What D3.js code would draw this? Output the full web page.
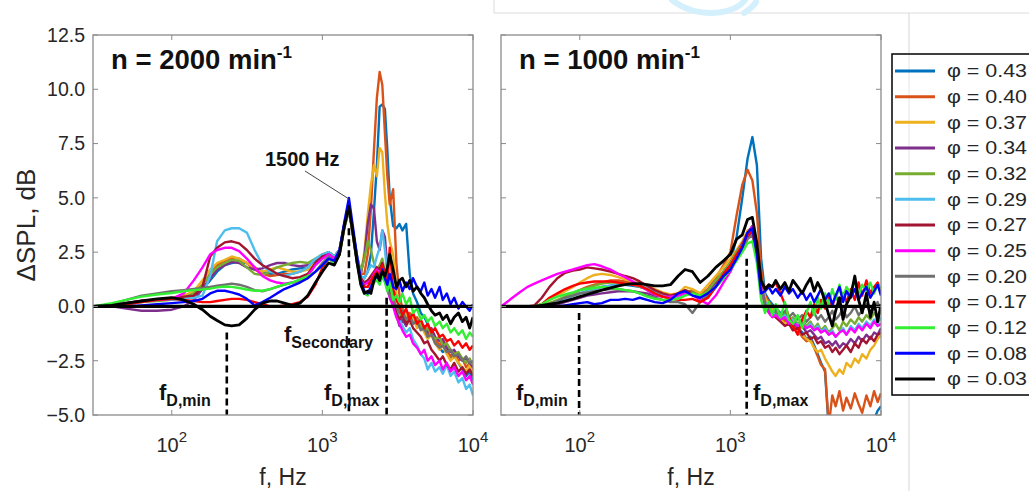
<!DOCTYPE html>
<html>
<head>
<meta charset="utf-8">
<script src="https://cdn.jsdelivr.net/npm/d3@7"></script>
<style>
  html, body { margin: 0; padding: 0; background: #fff; }
  svg { display: block; font-family: "Liberation Sans", Arial, sans-serif; }
</style>
</head>
<body>
<svg id="chart" width="1029" height="491"></svg>
<script>
// ---- data -------------------------------------------------------------
// Flow coefficients shown in the legend
const phiValues = ["0.43", "0.40", "0.37", "0.34", "0.32", "0.29", "0.27", "0.25", "0.20", "0.17", "0.12", "0.08", "0.03"];

// Frequency grid, Hz (n = 2000 min^-1)
const freq2000 = [30, 40, 50, 63, 80, 100, 120, 140, 160, 180, 200, 225, 250, 280, 315, 355, 400, 450, 500, 560, 630, 710, 800, 900,
  1000, 1100, 1200, 1300, 1400, 1500, 1600, 1700, 1800, 1900, 2000, 2100, 2200, 2300, 2400, 2500, 2600, 2700, 2800, 2950,
  3100, 3250, 3400, 3600, 3800, 4000, 4250, 4500, 4750, 5000, 5300, 5600, 6000, 6300, 6700, 7100, 7500, 8000, 8500, 9000, 9500, 10000];

// Delta SPL, dB at n = 2000 min^-1, one array per phi
const s2000_043 = [0, 0.05, 0.15, 0.25, 0.3, 0.35, 0.4, 0.5, 0.8, 1.2, 1.6, 1.9, 2.0, 2.05, 2.0, 1.8, 1.6, 1.5, 1.5, 1.6, 1.7, 1.75, 1.8, 2.0,
  2.3, 2.5, 2.3, 2.6, 3.8, 4.6, 3.4, 2.2, 1.4, 1.3, 1.6, 2.4, 4.4, 6.5, 9.2, 9.3, 9.1, 7.2, 5.0, 3.7,
  3.6, 3.8, 3.5, 3.8, 1.5, 0.6, 0.2, -0.3, -0.5, -0.8, -1.2, -1.6, -1.9, -2.1, -2.0, -2.4, -2.2, -2.6, -2.9, -3.2, -3.0, -3.4];
const s2000_040 = [0, 0.05, 0.15, 0.25, 0.3, 0.35, 0.4, 0.6, 1.0, 1.5, 1.9, 2.1, 2.25, 2.2, 2.0, 1.7, 1.5, 1.4, 1.45, 1.5, 1.5, 1.6, 1.8, 2.1,
  2.3, 2.5, 2.3, 2.6, 3.8, 4.6, 3.3, 2.2, 1.5, 1.5, 2.4, 4.5, 7.2, 9.6, 10.8, 10.2, 8.0, 6.0, 4.7, 5.4,
  2.0, 0.5, -0.1, -0.4, -0.3, -0.6, -0.5, -0.9, -1.0, -1.3, -1.1, -1.5, -1.8, -1.6, -2.0, -2.3, -2.1, -2.5, -2.4, -2.8, -2.6, -2.9];
const s2000_037 = [0, 0.05, 0.15, 0.25, 0.3, 0.4, 0.5, 0.7, 1.2, 1.7, 2.0, 2.15, 2.3, 2.2, 2.0, 1.8, 1.6, 1.7, 1.8, 1.7, 1.6, 1.6, 1.7, 2.0,
  2.3, 2.5, 2.3, 2.6, 3.8, 4.6, 3.4, 2.2, 1.5, 2.5, 4.2, 5.6, 6.5, 6.0, 7.3, 7.1, 5.2, 3.8, 3.0, 2.4,
  0.6, -0.2, -0.6, -0.3, -0.8, -0.5, -1.0, -0.8, -1.2, -1.5, -1.3, -1.7, -2.0, -1.8, -2.2, -2.5, -2.3, -2.6, -2.8, -3.0, -2.7, -3.1];
const s2000_034 = [0, 0.0, -0.1, -0.2, -0.2, -0.15, 0.0, 0.3, 0.8, 1.3, 1.7, 1.9, 2.05, 2.0, 1.8, 1.7, 1.75, 1.9, 2.0, 2.0, 1.9, 1.85, 1.9, 2.1,
  2.3, 2.5, 2.3, 2.6, 3.8, 4.6, 3.4, 2.3, 1.5, 2.3, 3.8, 4.7, 4.5, 3.0, 2.6, 3.5, 3.2, 1.8, 1.0, 0.5,
  -0.4, -0.9, -0.6, -0.9, -0.5, -0.8, -0.6, -1.0, -0.9, -1.2, -1.0, -1.4, -1.6, -1.5, -1.9, -2.1, -2.0, -2.3, -2.5, -2.4, -2.6, -2.8];
const s2000_032 = [0, 0.05, 0.15, 0.2, 0.25, 0.3, 0.4, 0.6, 1.0, 1.5, 1.8, 2.0, 2.15, 2.1, 1.8, 1.5, 1.45, 1.6, 1.8, 1.9, 2.0, 2.05, 2.0, 2.2,
  2.4, 2.5, 2.3, 2.6, 3.8, 4.6, 3.4, 2.3, 1.6, 2.2, 3.0, 2.6, 2.0, 1.7, 1.9, 2.2, 1.6, 1.2, 0.8, 0.4,
  -0.2, -0.5, -0.3, -0.7, -0.4, -0.8, -0.6, -0.9, -1.1, -1.0, -1.3, -1.5, -1.4, -1.8, -1.7, -2.0, -2.2, -2.1, -2.4, -2.6, -2.4, -2.7];
const s2000_029 = [0, 0.05, 0.1, 0.2, 0.3, 0.3, 0.35, 0.4, 0.5, 1.4, 3.0, 3.5, 3.6, 3.6, 3.4, 2.6, 1.9, 1.6, 1.5, 1.4, 1.5, 1.6, 1.8, 2.2,
  2.4, 2.5, 2.3, 2.6, 3.8, 4.6, 3.4, 2.3, 1.4, 1.3, 1.6, 1.9, 1.8, 2.3, 2.7, 3.5, 2.6, 1.5, 0.9, 0.4,
  -0.1, -0.6, -0.9, -1.2, -1.0, -1.5, -1.8, -2.2, -2.4, -2.9, -2.6, -3.0, -2.8, -3.1, -2.7, -3.2, -3.0, -3.5, -3.3, -3.8, -3.6, -4.1];
const s2000_027 = [0, 0.05, 0.15, 0.25, 0.3, 0.35, 0.45, 0.5, 0.9, 2.3, 2.7, 2.95, 3.0, 2.9, 2.6, 2.2, 1.9, 1.7, 1.5, 1.4, 1.3, 1.35, 1.5, 2.0,
  2.3, 2.4, 2.2, 2.5, 3.7, 4.5, 3.3, 2.1, 1.3, 1.1, 1.2, 1.4, 1.6, 1.8, 1.7, 2.0, 1.5, 1.0, 0.6, 0.2,
  -0.3, -0.6, -0.4, -0.8, -0.6, -1.0, -1.2, -1.4, -1.7, -1.6, -2.0, -2.2, -2.5, -2.3, -2.7, -2.9, -2.6, -3.0, -2.8, -3.1, -2.9, -3.2];
const s2000_025 = [0, 0.05, 0.15, 0.25, 0.3, 0.35, 0.6, 1.2, 1.8, 2.4, 2.6, 2.7, 2.7, 2.55, 2.2, 1.8, 1.4, 1.2, 1.1, 1.05, 1.1, 1.2, 1.4, 1.9,
  2.2, 2.4, 2.2, 2.5, 3.7, 4.5, 3.3, 2.0, 1.2, 1.0, 1.1, 1.2, 1.5, 1.7, 1.5, 1.8, 1.3, 0.8, 0.4, 0.0,
  -0.5, -0.8, -1.1, -1.4, -1.3, -1.7, -1.9, -2.2, -2.0, -2.5, -2.3, -2.7, -2.5, -2.9, -2.6, -3.0, -2.8, -3.2, -3.0, -3.4, -3.2, -3.6];
const s2000_020 = [0, 0.1, 0.3, 0.5, 0.6, 0.7, 0.75, 0.8, 0.85, 0.9, 0.95, 1.0, 1.05, 1.0, 0.9, 0.75, 0.7, 0.8, 0.9, 1.0, 1.1, 1.2, 1.3, 1.6,
  2.0, 2.3, 2.0, 2.4, 3.6, 4.4, 3.2, 2.0, 1.2, 0.9, 0.9, 1.1, 1.3, 1.5, 1.3, 1.6, 1.2, 0.8, 0.5, 0.3,
  0.0, -0.3, -0.2, -0.6, -0.4, -0.8, -0.7, -1.1, -1.0, -1.4, -1.3, -1.7, -1.9, -1.8, -2.1, -2.0, -2.3, -2.2, -2.5, -2.3, -2.6, -2.5];
const s2000_017 = [0, 0.05, 0.1, 0.2, 0.3, 0.35, 0.3, 0.25, 0.2, 0.2, 0.25, 0.3, 0.35, 0.35, 0.3, 0.2, 0.1, 0.0, 0.0, 0.05, 0.1, 0.2, 0.45, 1.0,
  1.8, 2.2, 2.0, 2.4, 3.7, 4.5, 3.3, 2.1, 1.2, 0.9, 0.9, 1.2, 1.4, 1.6, 1.4, 1.9, 1.4, 1.0, 2.7, 0.8,
  0.3, 0.0, -0.4, -0.1, -0.6, -0.3, -0.8, -0.6, -1.0, -0.8, -1.2, -1.0, -1.4, -1.3, -1.6, -1.5, -1.8, -1.6, -1.9, -1.7, -2.0, -1.8];
const s2000_012 = [0, 0.15, 0.3, 0.45, 0.55, 0.62, 0.7, 0.75, 0.78, 0.82, 0.88, 0.92, 0.9, 0.85, 0.78, 0.72, 0.72, 0.8, 0.9, 1.0, 1.1, 1.25, 1.4, 1.6,
  1.9, 2.2, 2.0, 2.4, 3.7, 4.5, 3.3, 2.0, 1.0, 0.6, 0.5, 0.8, 1.1, 1.2, 1.0, 1.4, 1.1, 0.7, 1.1, 0.3,
  0.5, 0.2, 0.6, 0.1, 0.4, -0.3, -0.1, -0.6, -0.4, -0.7, -0.5, -0.9, -0.7, -1.0, -0.8, -1.2, -1.0, -1.3, -1.1, -1.5, -1.2, -1.4];
const s2000_008 = [0, 0.0, 0.0, 0.05, 0.1, 0.15, 0.2, 0.25, 0.35, 0.6, 0.72, 0.72, 0.65, 0.55, 0.35, 0.05, 0.2, 0.4, 0.6, 0.8, 0.95, 1.1, 1.3, 1.6,
  1.9, 2.2, 2.1, 2.6, 3.9, 5.0, 3.6, 2.3, 1.2, 0.7, 0.6, 0.9, 1.2, 1.4, 1.2, 1.7, 1.3, 1.0, 1.5, 0.9,
  0.8, 1.2, 0.7, 1.1, 0.8, 1.3, 0.9, 0.7, 1.1, 0.5, 0.8, 0.4, 0.9, 0.3, 0.6, 0.1, 0.4, -0.1, 0.2, 0.0, -0.2, 0.1];
const s2000_003 = [0, 0.05, 0.15, 0.25, 0.35, 0.4, 0.3, 0.1, -0.15, -0.45, -0.65, -0.85, -0.9, -0.85, -0.55, -0.15, 0.15, 0.25, 0.25, 0.15, 0.05, 0.15, 0.5, 1.1,
  1.6, 2.0, 1.9, 2.4, 3.7, 4.6, 3.3, 2.0, 1.0, 0.6, 0.7, 0.6, 1.2, 1.5, 1.2, 1.6, 1.4, 1.8, 2.4, 1.7,
  0.9, 1.2, 1.3, 0.9, 1.2, 0.7, 0.9, 0.6, 0.4, 0.1, -0.2, -0.4, -0.3, -0.6, -0.4, -0.8, -0.5, -0.3, -0.7, -0.5, -1.0, -0.5];

// Frequency grid, Hz (n = 1000 min^-1)
const freq1000 = [30, 35, 40, 45, 50, 56, 63, 71, 80, 90, 100, 112, 125, 140, 160, 180, 200, 225, 250, 280, 315, 355, 400, 450, 500, 560, 630, 710, 800, 900,
  1000, 1100, 1200, 1300, 1400, 1500, 1600, 1700, 1800, 1900, 2000,
  2150, 2300, 2450, 2600, 2800, 3000, 3200, 3400, 3600, 3800, 4000, 4250, 4500, 4750, 5000, 5300, 5600, 5900, 6300, 6700, 7100, 7500, 8000, 8500, 9000, 9500, 10000];

// Delta SPL, dB at n = 1000 min^-1, one array per phi
const s1000_043 = [0, 0, 0, 0, 0, 0.05, 0.1, 0.2, 0.35, 0.5, 0.6, 0.7, 0.8, 0.9, 0.95, 1.0, 1.0, 0.95, 0.9, 0.8, 0.65, 0.5, 0.4, 0.4, 0.6, 0.7, 0.5, 0.7, 1.1, 1.6,
  2.0, 3.2, 5.0, 6.8, 7.8, 6.5, 2.2, 0.6, 0.3, 0.1, -0.1,
  -0.3, -0.6, -0.5, -0.8, -1.0, -1.2, -1.5, -1.4, -1.8, -2.2, -2.6, -3.0, -5.6, -5.8, -5.5, -5.9, -5.6, -5.8, -5.5, -5.7, -5.6, -5.4, -5.7, -5.5, -5.2, -4.8, -4.6];
const s1000_040 = [0, 0, 0, 0, 0, 0.05, 0.15, 0.25, 0.4, 0.6, 0.75, 0.9, 1.0, 1.1, 1.2, 1.2, 1.15, 1.1, 1.0, 0.85, 0.7, 0.55, 0.45, 0.45, 0.65, 0.75, 0.55, 0.8, 1.3, 1.9,
  2.5, 4.2, 5.6, 6.3, 5.8, 4.3, 1.7, 0.5, 0.2, 0.0, -0.2,
  -0.4, -0.7, -0.6, -0.9, -1.1, -1.4, -1.6, -1.5, -1.9, -2.3, -2.7, -2.9, -5.5, -4.1, -4.6, -3.9, -4.8, -4.2, -4.7, -4.0, -4.5, -4.9, -4.1, -4.6, -3.9, -4.4, -4.0];
const s1000_037 = [0, 0, 0, 0, 0, 0.1, 0.3, 0.5, 0.7, 0.9, 1.1, 1.3, 1.45, 1.5, 1.45, 1.35, 1.25, 1.15, 1.05, 0.95, 0.8, 0.65, 0.55, 0.6, 0.9, 0.8, 0.6, 1.0, 1.4, 1.8,
  2.2, 2.6, 3.0, 3.5, 3.6, 2.6, 1.2, 0.4, 0.1, -0.2, -0.4,
  -0.6, -0.8, -0.7, -1.0, -1.1, -1.3, -1.5, -1.6, -1.9, -2.1, -2.0, -2.4, -2.7, -3.0, -3.2, -2.9, -3.1, -2.6, -2.8, -2.4, -2.6, -2.2, -2.4, -2.0, -1.8, -1.5, -1.3];
const s1000_034 = [0, 0, 0, 0, 0, 0, 0.05, 0.1, 0.2, 0.3, 0.4, 0.5, 0.55, 0.6, 0.65, 0.7, 0.7, 0.7, 0.65, 0.6, 0.5, 0.45, 0.4, 0.45, 0.7, 0.6, 0.4, 0.7, 1.1, 1.6,
  2.0, 2.5, 2.9, 3.4, 3.7, 2.6, 1.0, 0.2, -0.2, -0.4, -0.3,
  -0.6, -0.5, -0.8, -0.7, -1.0, -0.9, -1.2, -1.1, -1.3, -1.5, -1.4, -1.7, -1.6, -1.8, -1.6, -1.9, -1.7, -1.8, -1.5, -1.7, -1.4, -1.6, -1.3, -1.5, -1.2, -1.3, -1.0];
const s1000_032 = [0, 0, 0, 0, 0, 0.05, 0.15, 0.3, 0.45, 0.6, 0.75, 0.85, 0.95, 1.05, 1.1, 1.1, 1.05, 1.0, 0.9, 0.8, 0.65, 0.5, 0.4, 0.45, 0.75, 0.65, 0.45, 0.75, 1.2, 1.6,
  2.0, 2.5, 2.8, 3.2, 3.3, 2.3, 0.9, 0.1, -0.1, -0.3, -0.2,
  -0.5, -0.3, -0.7, -0.5, -0.8, -0.6, -0.9, -0.7, -1.0, -0.8, -1.1, -0.9, -1.2, -1.0, -0.8, -1.1, -0.7, -0.9, -0.6, -0.8, -0.5, -0.7, -0.4, -0.6, -0.3, -0.5, -0.2];
const s1000_029 = [0, 0, 0, 0, 0, 0.05, 0.1, 0.2, 0.35, 0.5, 0.6, 0.7, 0.8, 0.9, 0.95, 1.0, 1.0, 1.0, 0.95, 0.85, 0.7, 0.55, 0.45, 0.45, 0.6, 0.55, 0.35, 0.55, 0.9, 1.3,
  1.8, 2.3, 2.7, 3.2, 3.4, 2.4, 0.9, 0.2, -0.1, -0.3, -0.4,
  -0.6, -0.4, -0.8, -0.6, -0.9, -0.7, -1.0, -0.8, -1.1, -0.9, -1.2, -1.0, -1.3, -1.1, -1.4, -1.2, -1.0, -1.3, -0.9, -1.1, -0.8, -1.0, -0.7, -0.9, -0.6, -0.8, -0.5];
const s1000_027 = [0, 0, 0, 0, 0.05, 0.4, 0.9, 1.3, 1.55, 1.65, 1.7, 1.8, 1.75, 1.7, 1.6, 1.5, 1.4, 1.3, 1.15, 0.95, 0.75, 0.6, 0.5, 0.6, 0.75, 0.6, 0.25, 0.45, 0.9, 1.4,
  1.8, 2.3, 2.7, 3.2, 3.5, 2.5, 0.9, 0.1, -0.2, -0.4, -0.5,
  -0.7, -0.9, -0.8, -1.1, -1.0, -1.3, -1.2, -1.5, -1.4, -1.7, -1.6, -1.9, -1.8, -2.1, -1.9, -2.2, -2.0, -1.8, -2.1, -1.7, -1.9, -1.5, -1.7, -1.4, -1.6, -1.3, -1.2];
const s1000_025 = [0, 0.35, 0.65, 0.9, 1.05, 1.2, 1.35, 1.5, 1.6, 1.7, 1.8, 1.9, 1.95, 1.85, 1.7, 1.5, 1.35, 1.15, 0.95, 0.75, 0.55, 0.45, 0.45, 0.5, 0.6, 0.55, 0.3, 0.1, 0.5, 1.1,
  1.6, 2.2, 2.7, 3.3, 3.7, 2.6, 0.9, 0.0, -0.3, -0.5, -0.4,
  -0.6, -0.5, -0.8, -0.7, -0.9, -0.8, -1.0, -0.9, -1.1, -1.0, -1.2, -1.1, -1.3, -1.2, -1.4, -1.2, -1.1, -1.3, -1.0, -1.2, -0.9, -1.1, -0.8, -1.0, -0.7, -0.9, -0.8];
const s1000_020 = [0, 0, 0, 0, 0, 0, 0.1, 0.25, 0.4, 0.5, 0.6, 0.65, 0.7, 0.75, 0.8, 0.8, 0.75, 0.7, 0.6, 0.5, 0.4, 0.3, 0.2, 0.2, 0.1, -0.3, 0.2, 0.5, 0.9, 1.3,
  1.7, 2.2, 2.6, 3.1, 3.3, 2.3, 0.8, 0.1, -0.1, -0.3, -0.2,
  -0.4, -0.2, -0.5, -0.3, -0.6, -0.4, -0.7, -0.5, -0.3, -0.6, -0.4, -0.7, -0.5, -0.2, -0.6, -0.4, -0.1, -0.5, -0.3, 0.0, -0.4, -0.2, 0.1, -0.3, -0.1, 0.2, -0.2];
const s1000_017 = [0, 0, 0, 0, 0, 0.1, 0.4, 0.6, 0.8, 0.95, 1.05, 1.1, 1.15, 1.15, 1.15, 1.1, 1.05, 1.0, 0.95, 0.8, 0.6, 0.45, 0.35, 0.3, 0.3, 0.35, 0.2, 0.4, 0.9, 1.5,
  1.9, 2.4, 2.8, 3.3, 3.5, 2.4, 1.1, 0.8, 1.0, 0.9, 1.1,
  0.6, 0.1, -0.5, -0.9, -1.3, -0.6, -0.2, -0.5, 0.1, -0.3, 0.3, -0.1, 0.4, 0.0, 0.5, 0.1, 0.6, 0.2, 0.8, 0.3, 1.1, 0.5, 1.2, 0.6, 0.9, 1.1, 0.7];
const s1000_012 = [0, 0, 0, 0, 0, 0.1, 0.3, 0.45, 0.55, 0.65, 0.75, 0.8, 0.85, 0.9, 0.85, 0.8, 0.75, 0.7, 0.6, 0.45, 0.35, 0.3, 0.3, 0.35, 0.5, 0.6, 0.5, 0.6, 0.9, 1.3,
  1.7, 2.1, 2.5, 2.9, 3.0, 2.0, 0.3, -0.3, 0.2, -0.4, 0.1,
  -0.5, 0.2, -0.6, -0.8, -0.4, -1.0, -0.3, 0.2, -0.4, 0.4, -0.1, 0.6, 0.1, 0.8, 0.3, 1.0, 0.4, 0.9, 0.6, 1.2, 0.5, 1.0, 0.7, 1.1, 0.6, 1.0, 0.8];
const s1000_008 = [0, 0, 0, 0, 0, 0, 0, 0, 0.05, 0.1, 0.15, 0.2, 0.1, 0.15, 0.3, 0.3, 0.35, 0.3, 0.4, 0.3, 0.2, 0.15, 0.3, 0.6, 0.7, 0.5, 0.4, 0.6, 0.9, 1.4,
  1.7, 2.2, 2.7, 3.4, 3.6, 2.4, 0.6, 0.7, 0.9, 0.6, 0.8,
  0.5, 0.9, 0.6, 0.8, 0.4, 0.7, 0.3, 0.6, 0.2, 0.5, 0.8, 0.3, 0.6, 0.1, 0.5, 0.9, 0.2, 0.7, 0.4, 0.8, 0.3, 0.6, 0.9, 0.4, 0.7, 1.0, 0.5];
const s1000_003 = [0, 0, 0, 0, 0, 0.05, 0.1, 0.15, 0.25, 0.35, 0.45, 0.55, 0.65, 0.75, 0.85, 0.95, 1.0, 1.05, 1.05, 1.0, 0.95, 0.95, 1.0, 1.4, 1.7, 1.6, 1.1, 1.4, 1.8, 2.1,
  2.4, 3.1, 3.3, 4.0, 4.1, 2.9, 1.2, 0.8, 1.0, 0.9, 1.2,
  0.8, 1.1, 0.7, 1.2, 0.9, 0.6, 1.0, 1.3, 0.7, 1.1, 0.8, 0.2, -0.4, -0.9, -0.2, 0.4, -0.6, 0.1, 0.5, 1.4, 0.3, -0.3, 0.6, -0.5, 0.2, -0.7, 0.1];

// Axis ticks
const yTickValues = [-5, -2.5, 0, 2.5, 5, 7.5, 10, 12.5];
const xTickValues = [100, 1000, 10000];

// Characteristic frequencies, Hz
const marks2000 = { fDmin: 232, fSecondary: 1500, fDmax: 2670 };
const marks1000 = { fDmin: 99, fDmax: 1283 };

// ---- styling ---------------------------------------------------------
const seriesColors = ["#0072BD", "#D95319", "#EDB120", "#7E2F8E", "#77AC30", "#4DBEEE", "#A2142F",
  "#FF00FF", "#707070", "#FF0000", "#33EE33", "#0000FF", "#000000"];

const svg = d3.select("#chart");
const axisColor = "#8a8a8a";
const textColor = "#262626";
const plotTop = 35, plotBottom = 415;

// faint page furniture behind the figure
svg.append("path").attr("d", "M494,0V13H1029").attr("fill", "none").attr("stroke", "#dcdcdc").attr("stroke-width", 1);
svg.append("line").attr("x1", 909).attr("x2", 909).attr("y1", 13).attr("y2", 491).attr("stroke", "#d6d6d6").attr("stroke-width", 1);
svg.append("path").attr("d", "M672,0 Q688,13 712,13 Q736,12 745,0 M744,13 Q752,8 756,2")
  .attr("fill", "none").attr("stroke", "#d4f0fc").attr("stroke-width", 6).attr("stroke-linecap", "round");

function drawPanel(cfg) {
  const x = d3.scaleLog().domain([30, 10000]).range([cfg.left, cfg.right]);
  const y = d3.scaleLinear().domain([-5, 12.5]).range([plotBottom, plotTop]);
  const g = svg.append("g");

  g.append("rect").attr("x", cfg.left).attr("y", plotTop)
    .attr("width", cfg.right - cfg.left).attr("height", plotBottom - plotTop).attr("fill", "#fff");

  const clipId = "clip-" + cfg.id;
  svg.append("clipPath").attr("id", clipId).append("rect")
    .attr("x", cfg.left).attr("y", plotTop).attr("width", cfg.right - cfg.left).attr("height", plotBottom - plotTop);

  const plot = g.append("g").attr("clip-path", `url(#${clipId})`);
  const line = d3.line().x((d, i) => x(cfg.freq[i])).y(d => y(d));

  cfg.series.forEach((vals, k) => {
    plot.append("path").datum(vals)
      .attr("d", line)
      .attr("fill", "none")
      .attr("stroke", seriesColors[k])
      .attr("stroke-width", k === cfg.series.length - 1 ? 2.8 : 2.4)
      .attr("stroke-linejoin", "round");
  });

  // zero reference line
  plot.append("line").attr("x1", cfg.left).attr("x2", cfg.right)
    .attr("y1", y(0)).attr("y2", y(0)).attr("stroke", "#000").attr("stroke-width", 3.2);

  // dashed markers for characteristic frequencies
  cfg.dashed.forEach(m => {
    g.append("line").attr("x1", x(m.f)).attr("x2", x(m.f))
      .attr("y1", y(m.from)).attr("y2", y(-5))
      .attr("stroke", "#000").attr("stroke-width", 2.6).attr("stroke-dasharray", "7,4");
  });

  // frame and inward ticks
  g.append("rect").attr("x", cfg.left).attr("y", plotTop)
    .attr("width", cfg.right - cfg.left).attr("height", plotBottom - plotTop)
    .attr("fill", "none").attr("stroke", axisColor).attr("stroke-width", 1.3);
  const tk = 5;
  yTickValues.forEach(v => {
    g.append("line").attr("x1", cfg.left).attr("x2", cfg.left + tk).attr("y1", y(v)).attr("y2", y(v)).attr("stroke", axisColor);
    g.append("line").attr("x1", cfg.right - tk).attr("x2", cfg.right).attr("y1", y(v)).attr("y2", y(v)).attr("stroke", axisColor);
  });
  xTickValues.forEach(v => {
    g.append("line").attr("x1", x(v)).attr("x2", x(v)).attr("y1", plotBottom).attr("y2", plotBottom - tk).attr("stroke", axisColor);
    g.append("line").attr("x1", x(v)).attr("x2", x(v)).attr("y1", plotTop).attr("y2", plotTop + tk).attr("stroke", axisColor);
  });

  // x tick labels as powers of ten
  xTickValues.forEach(v => {
    const t = g.append("text").attr("x", x(v)).attr("y", 452)
      .attr("text-anchor", "middle").attr("fill", textColor).attr("font-size", 20);
    t.append("tspan").text("10");
    t.append("tspan").attr("dy", -10).attr("font-size", 15).text(String(Math.round(Math.log10(v))));
  });

  if (cfg.yLabels) {
    const fmt = d3.format(".1f");
    yTickValues.forEach(v => {
      g.append("text").attr("x", 85).attr("y", y(v)).attr("dy", "0.35em")
        .attr("text-anchor", "end").attr("fill", textColor).attr("font-size", 19.5)
        .text(fmt(v));
    });
    g.append("text")
      .attr("transform", `translate(35,${(plotTop + plotBottom) / 2}) rotate(-90)`)
      .attr("text-anchor", "middle").attr("fill", textColor).attr("font-size", 26)
      .text("\u0394SPL, dB");
  }

  // x axis title
  g.append("text").attr("x", (cfg.left + cfg.right) / 2).attr("y", 485)
    .attr("text-anchor", "middle").attr("fill", textColor).attr("font-size", 23)
    .text("f, Hz");

  // panel title
  const title = g.append("text").attr("x", cfg.left + 18).attr("y", 69)
    .attr("font-weight", "bold").attr("font-size", 27.5).attr("fill", "#111");
  title.append("tspan").text(`n = ${cfg.speed} min`);
  title.append("tspan").attr("dy", -11).attr("font-size", 17).text("-1");

  // subscripted frequency labels
  cfg.labels.forEach(lb => {
    const t = g.append("text").attr("x", lb.x).attr("y", lb.y)
      .attr("font-weight", "bold").attr("fill", "#111").attr("font-size", 22);
    t.append("tspan").text("f");
    t.append("tspan").attr("dy", 6).attr("font-size", 16).text(lb.sub);
  });

  return { x, y, g };
}

const left = drawPanel({
  id: "n2000", left: 93, right: 473, speed: 2000, freq: freq2000, yLabels: true,
  series: [s2000_043, s2000_040, s2000_037, s2000_034, s2000_032, s2000_029, s2000_027,
    s2000_025, s2000_020, s2000_017, s2000_012, s2000_008, s2000_003],
  dashed: [
    { f: marks2000.fDmin, from: -1.2 },
    { f: marks2000.fSecondary, from: 3.6 },
    { f: marks2000.fDmax, from: 0.4 }
  ],
  labels: [
    { x: 159, y: 400, sub: "D,min" },
    { x: 284, y: 342, sub: "Secondary" },
    { x: 324, y: 400, sub: "D,max" }
  ]
});

const right = drawPanel({
  id: "n1000", left: 501, right: 881, speed: 1000, freq: freq1000, yLabels: false,
  series: [s1000_043, s1000_040, s1000_037, s1000_034, s1000_032, s1000_029, s1000_027,
    s1000_025, s1000_020, s1000_017, s1000_012, s1000_008, s1000_003],
  dashed: [
    { f: marks1000.fDmin, from: -0.3 },
    { f: marks1000.fDmax, from: 2.2 }
  ],
  labels: [
    { x: 516, y: 400, sub: "D,min" },
    { x: 753, y: 400, sub: "D,max" }
  ]
});

// "1500 Hz" callout with leader line
left.g.append("line").attr("x1", 305).attr("y1", 171)
  .attr("x2", left.x(marks2000.fSecondary)).attr("y2", left.y(4.95))
  .attr("stroke", "#444").attr("stroke-width", 1);
left.g.append("text").attr("x", 265).attr("y", 166)
  .attr("font-weight", "bold").attr("font-size", 20).attr("fill", "#111").text("1500 Hz");

// legend
const legend = svg.append("g");
legend.append("rect").attr("x", 892).attr("y", 54).attr("width", 160).attr("height", 341)
  .attr("fill", "#fff").attr("stroke", "#000").attr("stroke-width", 1.5);
legend.append("line").attr("x1", 909).attr("x2", 909).attr("y1", 55).attr("y2", 394)
  .attr("stroke", "#e4e4e4").attr("stroke-width", 1);
phiValues.forEach((p, i) => {
  const yy = 71 + i * 25.67;
  legend.append("line").attr("x1", 895).attr("x2", 935).attr("y1", yy).attr("y2", yy)
    .attr("stroke", seriesColors[i]).attr("stroke-width", 3);
  legend.append("text").attr("x", 947).attr("y", yy).attr("dy", "0.35em")
    .attr("font-size", 18).attr("fill", textColor)
    .attr("textLength", 80).attr("lengthAdjust", "spacingAndGlyphs")
    .text(`\u03C6 = ${p}`);
});
</script>
</body>
</html>
